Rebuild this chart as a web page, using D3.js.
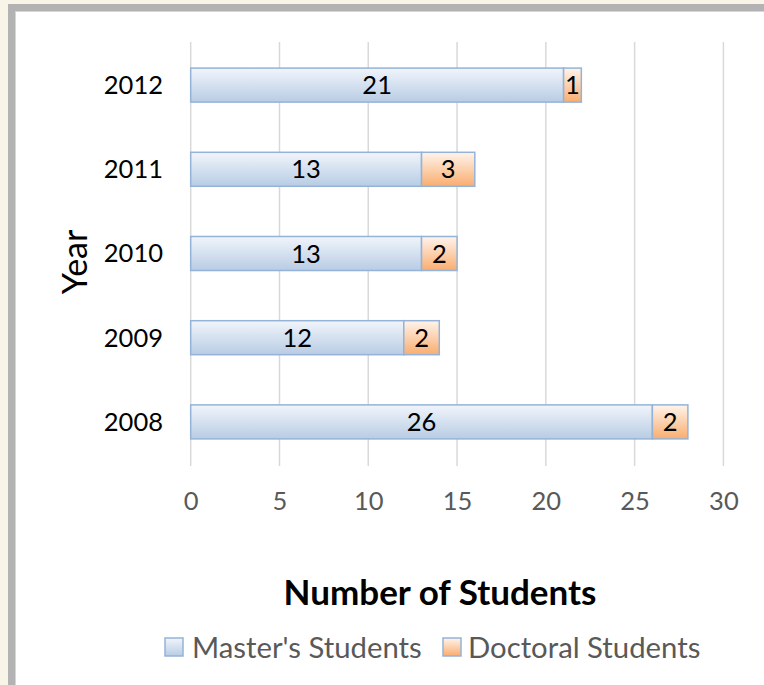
<!DOCTYPE html>
<html><head><meta charset="utf-8">
<script src="https://cdn.jsdelivr.net/npm/d3@7"></script>
<style>
html,body{margin:0;padding:0;background:#f8f4e8;}
svg{display:block;font-family:Lato,"Open Sans",sans-serif;}
</style></head>
<body>
<svg id="chart" width="764" height="685"></svg>
<script>
const years = ["2012","2011","2010","2009","2008"];
const masters = [21,13,13,12,26];
const doctoral = [1,3,2,2,2];
const seriesNames = ["Master's Students","Doctoral Students"];
const xTicks = [0,5,10,15,20,25,30];
const xTitle = "Number of Students";
const yTitle = "Year";

const svg = d3.select("#chart");
const defs = svg.append("defs");
function grad(id, c1, c2){
  const g = defs.append("linearGradient").attr("id",id).attr("x1",0).attr("y1",0).attr("x2",0).attr("y2",1);
  g.append("stop").attr("offset","0%").attr("stop-color",c1);
  g.append("stop").attr("offset","100%").attr("stop-color",c2);
}
grad("gBlue","#f1f5fb","#b8cce4");
grad("gOrange","#fff4ec","#f9ad6f");

// frame
svg.append("rect").attr("x",0).attr("y",0).attr("width",764).attr("height",685).attr("fill","#f8f4e8");
svg.append("rect").attr("x",8).attr("y",4).attr("width",756).attr("height",681).attr("fill","#b3b3b3");
svg.append("rect").attr("x",15).attr("y",11).attr("width",749).attr("height",674).attr("fill","#d6d6d6");
svg.append("rect").attr("x",16).attr("y",12).attr("width",748).attr("height",673).attr("fill","#ffffff");

const x = d3.scaleLinear().domain([0,30]).range([190.7,723.4]);
const y = d3.scaleBand().domain(years).range([43,464]).paddingInner(0.596).paddingOuter(0.298);

// gridlines
svg.append("g").selectAll("line").data(xTicks).join("line")
  .attr("x1",d=>x(d)).attr("x2",d=>x(d)).attr("y1",42).attr("y2",466)
  .attr("stroke","#d9d9d9").attr("stroke-width",1.5);

// x tick labels
const xAxis = svg.append("g").attr("transform","translate(0,510)")
  .call(d3.axisBottom(x).tickValues(xTicks).tickSize(0).tickPadding(0));
xAxis.select(".domain").remove();
xAxis.selectAll("text").attr("fill","#595959").attr("font-size",25.5).attr("dy","0").attr("font-family","Lato");

// y labels
const yAxis = svg.append("g").attr("transform","translate(163,0)")
  .call(d3.axisLeft(y).tickSize(0).tickPadding(0));
yAxis.select(".domain").remove();
yAxis.selectAll("text").attr("fill","#000").attr("font-size",25.5).attr("dy","0.35em").attr("font-family","Lato");

const rows = years.map((yr,i)=>({yr, m:masters[i], d:doctoral[i]}));

// master bars
svg.append("g").selectAll("rect").data(rows).join("rect")
  .attr("x",x(0)).attr("y",d=>y(d.yr)).attr("width",d=>x(d.m)-x(0)).attr("height",y.bandwidth())
  .attr("fill","url(#gBlue)").attr("stroke","#95b3d7").attr("stroke-width",1.5);
// doctoral bars
svg.append("g").selectAll("rect").data(rows).join("rect")
  .attr("x",d=>x(d.m)).attr("y",d=>y(d.yr)).attr("width",d=>x(d.m+d.d)-x(d.m)).attr("height",y.bandwidth())
  .attr("fill","url(#gOrange)").attr("stroke","#95b3d7").attr("stroke-width",1.5);

// data labels
svg.append("g").selectAll("text").data(rows).join("text")
  .attr("x",d=>(x(0)+x(d.m))/2).attr("y",d=>y(d.yr)+y.bandwidth()/2).attr("dy","0.36em")
  .attr("text-anchor","middle").attr("font-size",25.5).attr("fill","#000").text(d=>d.m);
svg.append("g").selectAll("text").data(rows).join("text")
  .attr("x",d=>(x(d.m)+x(d.m+d.d))/2).attr("y",d=>y(d.yr)+y.bandwidth()/2).attr("dy","0.36em")
  .attr("text-anchor","middle").attr("font-size",25.5).attr("fill","#000").text(d=>d.d);

// titles
svg.append("text").attr("x",440).attr("y",605).attr("text-anchor","middle")
  .attr("font-size",35).attr("font-weight","bold").attr("fill","#000").text(xTitle);
svg.append("text").attr("transform","translate(87,262) rotate(-90)").attr("text-anchor","middle")
  .attr("font-size",34).attr("fill","#000").text(yTitle);

// legend
const leg = [{name:seriesNames[0], fill:"url(#gBlue)", sx:165, tx:192},{name:seriesNames[1], fill:"url(#gOrange)", sx:443, tx:468}];
const lg = svg.append("g");
lg.selectAll("rect").data(leg).join("rect")
  .attr("x",d=>d.sx).attr("y",638).attr("width",18).attr("height",18)
  .attr("fill",d=>d.fill).attr("stroke","#95b3d7").attr("stroke-width",1.5);
lg.selectAll("text").data(leg).join("text")
  .attr("x",d=>d.tx).attr("y",658).attr("font-size",29.3).attr("fill","#595959").text(d=>d.name);
</script>
</body></html>
